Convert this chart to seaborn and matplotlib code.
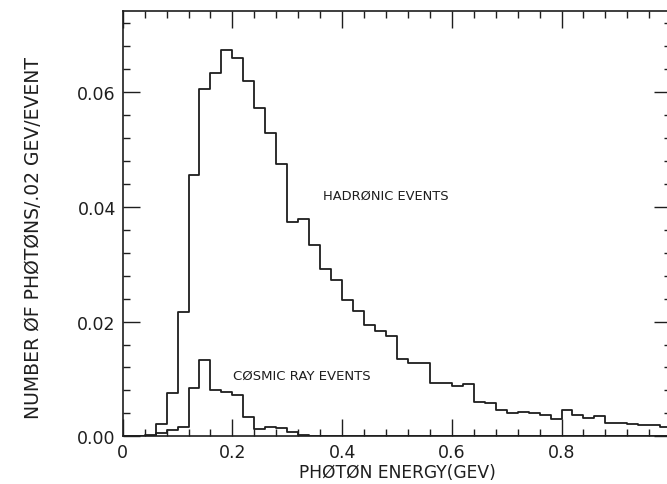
import numpy as np
import pandas as pd
import matplotlib
matplotlib.use("Agg")
import matplotlib.pyplot as plt
from matplotlib.ticker import MultipleLocator, FixedLocator, FixedFormatter
import seaborn as sns

# ---- data (photon energy histograms, bin width 0.02 GeV) ----
bin_edges = [round(0.02 * i, 2) for i in range(51)]
hadronic = [0.0, 0.0, 0.0003, 0.0021, 0.0075, 0.0217, 0.0456, 0.0606, 0.0634, 0.0673,
            0.0660, 0.0619, 0.0573, 0.0528, 0.0474, 0.0373, 0.0379, 0.0333, 0.0292, 0.0272,
            0.0238, 0.0219, 0.0194, 0.0184, 0.0175, 0.0134, 0.0128, 0.0128, 0.0093, 0.0093,
            0.0087, 0.0092, 0.0059, 0.0058, 0.0046, 0.0040, 0.0043, 0.0040, 0.0037, 0.0031,
            0.0045, 0.0037, 0.0032, 0.0035, 0.0024, 0.0023, 0.0022, 0.0019, 0.0019, 0.0017]
cosmic = [0.0, 0.0, 0.0, 0.0005, 0.0011, 0.0017, 0.0084, 0.0133, 0.0081, 0.0078,
          0.0072, 0.0033, 0.0013, 0.0017, 0.0014, 0.0007, 0.0002, 0.0, 0.0, 0.0,
          0.0, 0.0, 0.0, 0.0, 0.0, 0.0, 0.0, 0.0, 0.0, 0.0,
          0.0, 0.0, 0.0, 0.0, 0.0, 0.0, 0.0, 0.0, 0.0, 0.0,
          0.0, 0.0, 0.0, 0.0, 0.0, 0.0, 0.0, 0.0, 0.0, 0.0]
x_major = [0, 0.2, 0.4, 0.6, 0.8, 1.0]
x_major_labels = ["0", "0.2", "0.4", "0.6", "0.8", "1"]
y_major = [0.00, 0.02, 0.04, 0.06]
y_major_labels = ["0.00", "0.02", "0.04", "0.06"]

centers = [(bin_edges[i] + bin_edges[i + 1]) / 2 for i in range(len(bin_edges) - 1)]
df = pd.DataFrame({"energy": centers * 2,
                   "value": hadronic + cosmic,
                   "sample": ["hadronic"] * len(centers) + ["cosmic"] * len(centers)})

sns.set_style("ticks")
plt.rcParams["font.family"] = ["DejaVu Sans"]

W, H = 667, 485
fig = plt.figure(figsize=(W / 100, H / 100), dpi=100)
ax = fig.add_axes([122.7 / W, 1 - 437.3 / H, 548.5 / W, 425 / H])

ink = "#1e1e1e"
for name in ["hadronic", "cosmic"]:
    sns.histplot(data=df[df["sample"] == name], x="energy", weights="value",
                 bins=bin_edges, element="step", fill=False, color=ink,
                 linewidth=1.3, ax=ax)

ax.set_xlim(0, 1)
ax.set_ylim(0, 0.0741)

ax.xaxis.set_major_locator(FixedLocator(x_major))
ax.xaxis.set_major_formatter(FixedFormatter(x_major_labels))
ax.xaxis.set_minor_locator(MultipleLocator(0.04))
ax.yaxis.set_major_locator(FixedLocator(y_major))
ax.yaxis.set_major_formatter(FixedFormatter(y_major_labels))
ax.yaxis.set_minor_locator(MultipleLocator(0.004))

ax.tick_params(which="both", direction="in", top=True, right=True, colors=ink,
               width=1.0)
ax.tick_params(which="major", length=12.5, labelsize=12.5, pad=5)
ax.tick_params(which="minor", length=5)
for s in ax.spines.values():
    s.set_color(ink)
    s.set_linewidth(1.2)

ax.set_xlabel("PHØTØN ENERGY(GEV)", fontsize=12.3, color=ink, labelpad=1)
ax.set_ylabel("NUMBER ØF PHØTØNS/.02 GEV/EVENT", fontsize=13.5, color=ink)
ax.yaxis.set_label_coords(-0.145, 0.47)

ax.text(0.365, 0.0421, "HADRØNIC EVENTS", fontsize=9.4, color=ink, va="center", ha="left")
ax.text(0.202, 0.0106, "CØSMIC RAY EVENTS", fontsize=9.5, color=ink, va="center", ha="left")

fig.savefig("out.png", dpi=100)
